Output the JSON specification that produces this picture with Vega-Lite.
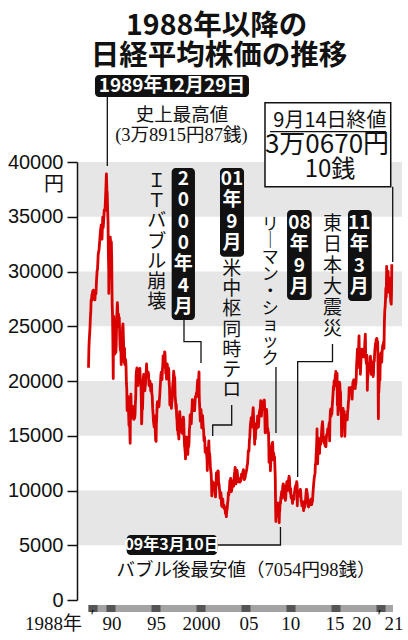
{
"$schema": "https://vega.github.io/schema/vega-lite/v6.json",
"width": 325, "height": 438,
"autosize": "none",
"padding": {"left": 77, "top": 162, "right": 6, "bottom": 40},
"background": "white",
"config": {"view": {"stroke": null}},
"datasets": {
"bands": [
{"t":1986.722,"t2":2022.833,"v":5000,"v2":10000},
{"t":1986.722,"t2":2022.833,"v":15000,"v2":20000},
{"t":1986.722,"t2":2022.833,"v":25000,"v2":30000},
{"t":1986.722,"t2":2022.833,"v":35000,"v2":40000}],
"xbar": [
{"t":1988,"t2":2021.83,"v":-457,"v2":-1096,"k":"L"},
{"t":1988,"t2":1989,"v":-457,"v2":-1096,"k":"D"},
{"t":1990,"t2":1991,"v":-457,"v2":-1096,"k":"D"},
{"t":1995,"t2":1996,"v":-457,"v2":-1096,"k":"D"},
{"t":2000,"t2":2001,"v":-457,"v2":-1096,"k":"D"},
{"t":2005,"t2":2006,"v":-457,"v2":-1096,"k":"D"},
{"t":2010,"t2":2011,"v":-457,"v2":-1096,"k":"D"},
{"t":2015,"t2":2016,"v":-457,"v2":-1096,"k":"D"},
{"t":2020,"t2":2021,"v":-457,"v2":-1096,"k":"D"}],
"wbox": [{"t":2007.61,"t2":2021.58,"v":37744,"v2":45416}],
"bbox": [
{"t":1988.72,"t2":2005.83,"v":45936,"v2":47945},
{"t":1997.24,"t2":1999.83,"v":25571,"v2":39452},
{"t":2002.61,"t2":2005.28,"v":31352,"v2":39452},
{"t":2010.06,"t2":2012.8,"v":27397,"v2":35616},
{"t":2016.83,"t2":2019.47,"v":27306,"v2":35616},
{"t":1992.24,"t2":2002.31,"v":4110,"v2":5936}],
"lead": [
{"id":"a","o":0,"t":1990.09,"v":45936},{"id":"a","o":1,"t":1990.09,"v":39635},
{"id":"b","o":0,"t":1998.61,"v":25571},{"id":"b","o":1,"t":1998.61,"v":23589},{"id":"b","o":2,"t":2000.5,"v":23589},{"id":"b","o":3,"t":2000.5,"v":21644},
{"id":"c","o":0,"t":2003.91,"v":17808},{"id":"c","o":1,"t":2003.91,"v":15982},{"id":"c","o":2,"t":2001.8,"v":15982},{"id":"c","o":3,"t":2001.8,"v":14977},
{"id":"d","o":0,"t":2008.83,"v":21278},{"id":"d","o":1,"t":2008.83,"v":15251},
{"id":"e","o":0,"t":2015.11,"v":23379},{"id":"e","o":1,"t":2015.11,"v":21763},{"id":"e","o":2,"t":2011.24,"v":21763},{"id":"e","o":3,"t":2011.24,"v":11233},
{"id":"f","o":0,"t":2002.31,"v":5023},{"id":"f","o":1,"t":2009.33,"v":5023},{"id":"f","o":2,"t":2009.33,"v":6667},
{"id":"g","o":0,"t":2021.8,"v":37744},{"id":"g","o":1,"t":2021.8,"v":30867},
{"id":"h","o":0,"t":2008.17,"v":42767},{"id":"h","o":1,"t":2021.06,"v":42767}],
"ttl": [{"t":2002.24,"v":52464,"s":"1988年以降の"},{"t":2002.5,"v":49724,"s":"日経平均株価の推移"}],
"wh18": [{"t":1997.28,"v":46941,"s":"1989年12月29日"}],
"wh15": [{"t":1997.28,"v":5023,"s":"09年3月10日"}],
"whv": [
{"t":1998.54,"v":39268,"s":"2\n0\n0\n0\n年\n4\n月"},
{"t":2003.94,"v":39268,"s":"01\n年\n9\n月"},
{"t":2011.43,"v":35251,"s":"08\n年\n9\n月"},
{"t":2018.09,"v":35251,"s":"11\n年\n3\n月"}],
"blv1": [{"t":1995.58,"v":39085,"s":"Ｉ\nＴ\nバ\nブ\nル\n崩\n壊"},{"t":2003.91,"v":31049,"s":"米\n中\n枢\n同\n時\nテ\nロ"}],
"blv2": [{"t":2015.11,"v":35205,"s":"東\n日\n本\n大\n震\n災"}],
"lehman": [{"t":2008.2,"v":35022,"s":"リ\n｜\nマ\nン\n・\nシ\nョ\nッ\nク"}],
"bl185": [{"t":1998.39,"v":44293,"s":"史上最高値"}],
"serif": [{"t":1998.33,"v":42466,"s":"(3万8915円87銭)"},{"t":2005.5,"v":2740,"s":"バブル後最安値（7054円98銭）"}],
"fin20": [{"t":2014.83,"v":43743,"s":"9月14日終値"}],
"fin27": [{"t":2014.5,"v":41553,"s":"3万0670円"}],
"fin24": [{"t":2014.83,"v":39224,"s":"10銭"}],
"xl": [
{"t":1984.11,"v":-2192,"s":"1988年"},{"t":1988.45,"v":-1552,"s":"′"},
{"t":1990.61,"v":-2192,"s":"90"},{"t":1995.56,"v":-2192,"s":"95"},
{"t":2000.56,"v":-2192,"s":"2000"},{"t":2005.83,"v":-2192,"s":"05"},
{"t":2010.47,"v":-2192,"s":"10"},{"t":2015.39,"v":-2192,"s":"15"},
{"t":2018.36,"v":-2192,"s":"20"},{"t":2020.33,"v":-1552,"s":"′"},
{"t":2021.94,"v":-2192,"s":"21"}],
"nk": [
{"t":1988.00,"v":21217},{"t":1988.04,"v":22790},{"t":1988.08,"v":23719},{"t":1988.13,"v":24350},{"t":1988.17,"v":24919},{"t":1988.21,"v":25800},{"t":1988.25,"v":26260},{"t":1988.29,"v":27400},{"t":1988.33,"v":27296},{"t":1988.38,"v":27900},{"t":1988.42,"v":27417},{"t":1988.46,"v":28200},{"t":1988.50,"v":27769},{"t":1988.54,"v":28300},{"t":1988.58,"v":28101},{"t":1988.63,"v":27500},{"t":1988.67,"v":27911},{"t":1988.71,"v":27400},{"t":1988.75,"v":27924},{"t":1988.79,"v":28200},{"t":1988.83,"v":27982},{"t":1988.88,"v":29000},{"t":1988.92,"v":29579},{"t":1988.96,"v":30100},
{"t":1989.00,"v":30159},{"t":1989.08,"v":31581},{"t":1989.17,"v":31985},{"t":1989.25,"v":32838},{"t":1989.33,"v":33713},{"t":1989.42,"v":34266},{"t":1989.46,"v":33800},{"t":1989.50,"v":32948},{"t":1989.58,"v":34954},{"t":1989.63,"v":34000},{"t":1989.67,"v":34431},{"t":1989.75,"v":35636},{"t":1989.83,"v":35549},{"t":1989.88,"v":36500},{"t":1989.92,"v":37268},{"t":1989.99,"v":38915},
{"t":1990.04,"v":37500},{"t":1990.08,"v":37188},{"t":1990.13,"v":35500},{"t":1990.17,"v":34591},{"t":1990.21,"v":31500},{"t":1990.25,"v":29980},{"t":1990.26,"v":28002},{"t":1990.30,"v":30500},{"t":1990.33,"v":29584},{"t":1990.38,"v":32000},{"t":1990.42,"v":33130},{"t":1990.46,"v":32500},{"t":1990.50,"v":31940},{"t":1990.54,"v":32700},{"t":1990.58,"v":31035},{"t":1990.63,"v":27000},{"t":1990.67,"v":25978},{"t":1990.71,"v":23500},{"t":1990.74,"v":20983},{"t":1990.75,"v":20221},{"t":1990.77,"v":24000},{"t":1990.81,"v":25900},{"t":1990.83,"v":25194},{"t":1990.88,"v":23000},{"t":1990.92,"v":22454},{"t":1990.96,"v":24000},
{"t":1991.00,"v":23848},{"t":1991.04,"v":22600},{"t":1991.08,"v":23293},{"t":1991.13,"v":25500},{"t":1991.17,"v":26409},{"t":1991.21,"v":27146},{"t":1991.25,"v":26292},{"t":1991.29,"v":25000},{"t":1991.33,"v":26111},{"t":1991.38,"v":25700},{"t":1991.42,"v":25789},{"t":1991.46,"v":24400},{"t":1991.50,"v":23290},{"t":1991.54,"v":22800},{"t":1991.58,"v":23900},{"t":1991.63,"v":21500},{"t":1991.67,"v":22335},{"t":1991.71,"v":23500},{"t":1991.75,"v":23916},{"t":1991.79,"v":25000},{"t":1991.83,"v":25222},{"t":1991.88,"v":24000},{"t":1991.92,"v":22687},{"t":1991.96,"v":21700},
{"t":1992.00,"v":22983},{"t":1992.04,"v":21500},{"t":1992.08,"v":22023},{"t":1992.13,"v":21900},{"t":1992.17,"v":21338},{"t":1992.21,"v":19800},{"t":1992.25,"v":19345},{"t":1992.29,"v":17300},{"t":1992.33,"v":17390},{"t":1992.38,"v":18600},{"t":1992.42,"v":18347},{"t":1992.46,"v":16900},{"t":1992.50,"v":15951},{"t":1992.54,"v":16500},{"t":1992.58,"v":15910},{"t":1992.63,"v":14309},{"t":1992.67,"v":18061},{"t":1992.71,"v":18800},{"t":1992.75,"v":17399},{"t":1992.79,"v":16600},{"t":1992.83,"v":16767},{"t":1992.88,"v":17300},{"t":1992.92,"v":17683},{"t":1992.96,"v":16700},
{"t":1993.00,"v":16924},{"t":1993.04,"v":16500},{"t":1993.08,"v":17023},{"t":1993.13,"v":16600},{"t":1993.17,"v":16952},{"t":1993.21,"v":18000},{"t":1993.25,"v":18591},{"t":1993.29,"v":20500},{"t":1993.33,"v":20919},{"t":1993.38,"v":21200},{"t":1993.42,"v":20552},{"t":1993.46,"v":19900},{"t":1993.50,"v":19590},{"t":1993.54,"v":20000},{"t":1993.58,"v":20380},{"t":1993.63,"v":21100},{"t":1993.67,"v":21027},{"t":1993.71,"v":21148},{"t":1993.75,"v":20106},{"t":1993.79,"v":20000},{"t":1993.83,"v":19703},{"t":1993.88,"v":17600},{"t":1993.90,"v":16078},{"t":1993.92,"v":16408},{"t":1993.96,"v":17800},
{"t":1994.00,"v":17417},{"t":1994.04,"v":18500},{"t":1994.08,"v":20229},{"t":1994.13,"v":20600},{"t":1994.17,"v":19997},{"t":1994.21,"v":19500},{"t":1994.25,"v":19112},{"t":1994.29,"v":19400},{"t":1994.33,"v":19725},{"t":1994.38,"v":20600},{"t":1994.42,"v":20973},{"t":1994.45,"v":21552},{"t":1994.50,"v":20644},{"t":1994.54,"v":20600},{"t":1994.58,"v":20449},{"t":1994.63,"v":20800},{"t":1994.67,"v":20629},{"t":1994.71,"v":19700},{"t":1994.75,"v":19564},{"t":1994.79,"v":19900},{"t":1994.83,"v":19990},{"t":1994.88,"v":19500},{"t":1994.92,"v":19076},{"t":1994.96,"v":19300},
{"t":1995.00,"v":19723},{"t":1995.04,"v":18800},{"t":1995.08,"v":18650},{"t":1995.13,"v":17500},{"t":1995.17,"v":17053},{"t":1995.21,"v":16400},{"t":1995.25,"v":16140},{"t":1995.29,"v":15800},{"t":1995.33,"v":16807},{"t":1995.38,"v":16400},{"t":1995.42,"v":15437},{"t":1995.46,"v":14600},{"t":1995.50,"v":14517},{"t":1995.51,"v":14485},{"t":1995.54,"v":16000},{"t":1995.58,"v":16678},{"t":1995.63,"v":17900},{"t":1995.67,"v":18117},{"t":1995.71,"v":17600},{"t":1995.75,"v":17913},{"t":1995.79,"v":17800},{"t":1995.83,"v":17655},{"t":1995.88,"v":18300},{"t":1995.92,"v":18744},{"t":1995.96,"v":19400},
{"t":1996.00,"v":19868},{"t":1996.04,"v":20500},{"t":1996.08,"v":20813},{"t":1996.13,"v":20200},{"t":1996.17,"v":20125},{"t":1996.21,"v":21000},{"t":1996.25,"v":21407},{"t":1996.29,"v":22300},{"t":1996.33,"v":22041},{"t":1996.38,"v":21700},{"t":1996.42,"v":21956},{"t":1996.46,"v":22666},{"t":1996.50,"v":22531},{"t":1996.54,"v":21500},{"t":1996.58,"v":20693},{"t":1996.63,"v":20900},{"t":1996.67,"v":20167},{"t":1996.71,"v":21400},{"t":1996.75,"v":21556},{"t":1996.79,"v":21000},{"t":1996.83,"v":20467},{"t":1996.88,"v":21200},{"t":1996.92,"v":21020},{"t":1996.96,"v":19800},
{"t":1997.00,"v":19361},{"t":1997.04,"v":17800},{"t":1997.08,"v":18330},{"t":1997.13,"v":17900},{"t":1997.17,"v":18557},{"t":1997.21,"v":17500},{"t":1997.25,"v":18003},{"t":1997.29,"v":18200},{"t":1997.33,"v":19151},{"t":1997.38,"v":19800},{"t":1997.42,"v":20068},{"t":1997.46,"v":20900},{"t":1997.50,"v":20605},{"t":1997.54,"v":20200},{"t":1997.58,"v":20331},{"t":1997.63,"v":18500},{"t":1997.67,"v":18229},{"t":1997.71,"v":17500},{"t":1997.75,"v":17888},{"t":1997.79,"v":16800},{"t":1997.83,"v":16459},{"t":1997.88,"v":15500},{"t":1997.92,"v":16636},{"t":1997.96,"v":15100},
{"t":1998.00,"v":15258},{"t":1998.04,"v":14700},{"t":1998.08,"v":16628},{"t":1998.13,"v":17200},{"t":1998.17,"v":16831},{"t":1998.21,"v":16300},{"t":1998.25,"v":16527},{"t":1998.29,"v":15400},{"t":1998.33,"v":15641},{"t":1998.38,"v":15300},{"t":1998.42,"v":15671},{"t":1998.46,"v":15200},{"t":1998.50,"v":15830},{"t":1998.54,"v":16700},{"t":1998.58,"v":16379},{"t":1998.63,"v":14900},{"t":1998.67,"v":14108},{"t":1998.71,"v":13800},{"t":1998.75,"v":13406},{"t":1998.78,"v":12880},{"t":1998.83,"v":13565},{"t":1998.88,"v":14600},{"t":1998.92,"v":14884},{"t":1998.96,"v":13700},
{"t":1999.00,"v":13842},{"t":1999.04,"v":13300},{"t":1999.08,"v":14499},{"t":1999.13,"v":14000},{"t":1999.17,"v":14368},{"t":1999.21,"v":15600},{"t":1999.25,"v":15837},{"t":1999.29,"v":16900},{"t":1999.33,"v":16702},{"t":1999.38,"v":16300},{"t":1999.42,"v":16112},{"t":1999.46,"v":17000},{"t":1999.50,"v":17530},{"t":1999.54,"v":18300},{"t":1999.58,"v":17862},{"t":1999.63,"v":17300},{"t":1999.67,"v":17437},{"t":1999.71,"v":17800},{"t":1999.75,"v":17605},{"t":1999.79,"v":17300},{"t":1999.83,"v":17943},{"t":1999.88,"v":18600},{"t":1999.92,"v":18558},{"t":1999.96,"v":18700},
{"t":2000.00,"v":18934},{"t":2000.04,"v":18600},{"t":2000.08,"v":19540},{"t":2000.13,"v":20100},{"t":2000.17,"v":19960},{"t":2000.21,"v":19200},{"t":2000.25,"v":20337},{"t":2000.28,"v":20833},{"t":2000.30,"v":18800},{"t":2000.33,"v":17974},{"t":2000.38,"v":17200},{"t":2000.42,"v":16332},{"t":2000.46,"v":17000},{"t":2000.50,"v":17411},{"t":2000.54,"v":16900},{"t":2000.58,"v":15727},{"t":2000.63,"v":16600},{"t":2000.67,"v":16861},{"t":2000.71,"v":16300},{"t":2000.75,"v":15747},{"t":2000.79,"v":15500},{"t":2000.83,"v":14539},{"t":2000.88,"v":14900},{"t":2000.92,"v":14649},{"t":2000.96,"v":13500},
{"t":2001.00,"v":13786},{"t":2001.04,"v":13900},{"t":2001.08,"v":13843},{"t":2001.13,"v":13200},{"t":2001.17,"v":12884},{"t":2001.20,"v":11820},{"t":2001.23,"v":13300},{"t":2001.25,"v":12999},{"t":2001.29,"v":13500},{"t":2001.33,"v":13934},{"t":2001.37,"v":14529},{"t":2001.42,"v":13262},{"t":2001.46,"v":13400},{"t":2001.50,"v":12969},{"t":2001.54,"v":12100},{"t":2001.58,"v":11860},{"t":2001.63,"v":11500},{"t":2001.67,"v":10714},{"t":2001.70,"v":9504},{"t":2001.75,"v":9775},{"t":2001.79,"v":10800},{"t":2001.83,"v":10366},{"t":2001.88,"v":10200},{"t":2001.92,"v":10697},{"t":2001.96,"v":10100},
{"t":2002.00,"v":10543},{"t":2002.04,"v":10200},{"t":2002.08,"v":9997},{"t":2002.11,"v":9420},{"t":2002.17,"v":10588},{"t":2002.21,"v":11600},{"t":2002.25,"v":11025},{"t":2002.29,"v":11600},{"t":2002.33,"v":11493},{"t":2002.38,"v":11800},{"t":2002.42,"v":11764},{"t":2002.46,"v":10500},{"t":2002.50,"v":10622},{"t":2002.54,"v":10200},{"t":2002.58,"v":9877},{"t":2002.63,"v":9300},{"t":2002.67,"v":9619},{"t":2002.71,"v":9800},{"t":2002.75,"v":9383},{"t":2002.79,"v":8600},{"t":2002.83,"v":8640},{"t":2002.88,"v":8500},{"t":2002.92,"v":9216},{"t":2002.96,"v":8500},
{"t":2003.00,"v":8579},{"t":2003.04,"v":8700},{"t":2003.08,"v":8340},{"t":2003.13,"v":8500},{"t":2003.17,"v":8363},{"t":2003.21,"v":7900},{"t":2003.25,"v":7973},{"t":2003.32,"v":7607},{"t":2003.33,"v":7831},{"t":2003.38,"v":8200},{"t":2003.42,"v":8425},{"t":2003.46,"v":8900},{"t":2003.50,"v":9083},{"t":2003.54,"v":9800},{"t":2003.58,"v":9563},{"t":2003.63,"v":9900},{"t":2003.67,"v":10344},{"t":2003.71,"v":10900},{"t":2003.75,"v":10219},{"t":2003.79,"v":11100},{"t":2003.83,"v":10560},{"t":2003.88,"v":9900},{"t":2003.92,"v":10100},{"t":2003.96,"v":10300},
{"t":2004.00,"v":10677},{"t":2004.04,"v":10900},{"t":2004.08,"v":10783},{"t":2004.13,"v":10400},{"t":2004.17,"v":11042},{"t":2004.21,"v":11500},{"t":2004.25,"v":11715},{"t":2004.29,"v":12100},{"t":2004.33,"v":11762},{"t":2004.38,"v":10600},{"t":2004.42,"v":11236},{"t":2004.46,"v":11800},{"t":2004.50,"v":11858},{"t":2004.54,"v":11500},{"t":2004.58,"v":11326},{"t":2004.63,"v":10800},{"t":2004.67,"v":11082},{"t":2004.71,"v":11100},{"t":2004.75,"v":10824},{"t":2004.79,"v":11000},{"t":2004.83,"v":10771},{"t":2004.88,"v":10900},{"t":2004.92,"v":10899},{"t":2004.96,"v":11100},
{"t":2005.00,"v":11489},{"t":2005.04,"v":11400},{"t":2005.08,"v":11388},{"t":2005.13,"v":11600},{"t":2005.17,"v":11741},{"t":2005.21,"v":11900},{"t":2005.25,"v":11668},{"t":2005.29,"v":11000},{"t":2005.33,"v":11009},{"t":2005.38,"v":11100},{"t":2005.42,"v":11277},{"t":2005.46,"v":11500},{"t":2005.50,"v":11584},{"t":2005.54,"v":11800},{"t":2005.58,"v":11900},{"t":2005.63,"v":12300},{"t":2005.67,"v":12413},{"t":2005.71,"v":12900},{"t":2005.75,"v":13574},{"t":2005.79,"v":13700},{"t":2005.83,"v":13606},{"t":2005.88,"v":14600},{"t":2005.92,"v":14872},{"t":2005.96,"v":15600},
{"t":2006.00,"v":16111},{"t":2006.04,"v":16300},{"t":2006.08,"v":16650},{"t":2006.13,"v":15800},{"t":2006.17,"v":16205},{"t":2006.21,"v":16500},{"t":2006.25,"v":17060},{"t":2006.30,"v":17563},{"t":2006.33,"v":16906},{"t":2006.38,"v":15800},{"t":2006.42,"v":15467},{"t":2006.46,"v":14219},{"t":2006.50,"v":15505},{"t":2006.54,"v":14700},{"t":2006.58,"v":15457},{"t":2006.63,"v":16100},{"t":2006.67,"v":16140},{"t":2006.71,"v":15700},{"t":2006.75,"v":16128},{"t":2006.79,"v":16800},{"t":2006.83,"v":16399},{"t":2006.88,"v":15800},{"t":2006.92,"v":16274},{"t":2006.96,"v":16900},
{"t":2007.00,"v":17225},{"t":2007.04,"v":17400},{"t":2007.08,"v":17383},{"t":2007.13,"v":18200},{"t":2007.17,"v":17604},{"t":2007.21,"v":16800},{"t":2007.25,"v":17288},{"t":2007.29,"v":17600},{"t":2007.33,"v":17400},{"t":2007.38,"v":17700},{"t":2007.42,"v":17876},{"t":2007.46,"v":18200},{"t":2007.50,"v":18138},{"t":2007.54,"v":18262},{"t":2007.58,"v":17249},{"t":2007.63,"v":15273},{"t":2007.67,"v":16569},{"t":2007.71,"v":16000},{"t":2007.75,"v":16786},{"t":2007.79,"v":17400},{"t":2007.83,"v":16737},{"t":2007.88,"v":15300},{"t":2007.92,"v":15681},{"t":2007.96,"v":15200},
{"t":2008.00,"v":15308},{"t":2008.04,"v":13800},{"t":2008.06,"v":12573},{"t":2008.08,"v":13592},{"t":2008.13,"v":13900},{"t":2008.17,"v":13603},{"t":2008.21,"v":11800},{"t":2008.25,"v":12526},{"t":2008.29,"v":13300},{"t":2008.33,"v":13850},{"t":2008.38,"v":14200},{"t":2008.42,"v":14339},{"t":2008.46,"v":14400},{"t":2008.50,"v":13481},{"t":2008.54,"v":12800},{"t":2008.58,"v":13377},{"t":2008.63,"v":13000},{"t":2008.67,"v":13073},{"t":2008.71,"v":12200},{"t":2008.75,"v":11260},{"t":2008.79,"v":8500},{"t":2008.82,"v":7162},{"t":2008.83,"v":8577},{"t":2008.88,"v":8100},{"t":2008.92,"v":8512},{"t":2008.96,"v":8300},
{"t":2009.00,"v":8860},{"t":2009.04,"v":8200},{"t":2009.08,"v":7994},{"t":2009.13,"v":7600},{"t":2009.17,"v":7568},{"t":2009.19,"v":7055},{"t":2009.23,"v":8300},{"t":2009.25,"v":8110},{"t":2009.29,"v":8900},{"t":2009.33,"v":8828},{"t":2009.38,"v":9400},{"t":2009.42,"v":9523},{"t":2009.46,"v":9900},{"t":2009.50,"v":9958},{"t":2009.54,"v":9300},{"t":2009.58,"v":10357},{"t":2009.63,"v":10600},{"t":2009.67,"v":10493},{"t":2009.71,"v":10200},{"t":2009.75,"v":10133},{"t":2009.79,"v":10300},{"t":2009.83,"v":10035},{"t":2009.88,"v":9100},{"t":2009.92,"v":9346},{"t":2009.96,"v":10200},
{"t":2010.00,"v":10546},{"t":2010.04,"v":10800},{"t":2010.08,"v":10198},{"t":2010.13,"v":10000},{"t":2010.17,"v":10126},{"t":2010.21,"v":10800},{"t":2010.25,"v":11090},{"t":2010.29,"v":11300},{"t":2010.33,"v":11057},{"t":2010.38,"v":10200},{"t":2010.42,"v":9769},{"t":2010.46,"v":10200},{"t":2010.50,"v":9383},{"t":2010.54,"v":9300},{"t":2010.58,"v":9537},{"t":2010.63,"v":9200},{"t":2010.67,"v":8824},{"t":2010.71,"v":9200},{"t":2010.75,"v":9369},{"t":2010.79,"v":9500},{"t":2010.83,"v":9202},{"t":2010.88,"v":9800},{"t":2010.92,"v":9937},{"t":2010.96,"v":10300},
{"t":2011.00,"v":10229},{"t":2011.04,"v":10500},{"t":2011.08,"v":10237},{"t":2011.13,"v":10800},{"t":2011.17,"v":10624},{"t":2011.19,"v":10300},{"t":2011.20,"v":8605},{"t":2011.23,"v":9600},{"t":2011.25,"v":9755},{"t":2011.29,"v":9600},{"t":2011.33,"v":9850},{"t":2011.38,"v":9900},{"t":2011.42,"v":9693},{"t":2011.46,"v":9500},{"t":2011.50,"v":9816},{"t":2011.54,"v":10100},{"t":2011.58,"v":9833},{"t":2011.63,"v":9000},{"t":2011.67,"v":8955},{"t":2011.71,"v":8600},{"t":2011.75,"v":8700},{"t":2011.79,"v":8700},{"t":2011.83,"v":8988},{"t":2011.88,"v":8400},{"t":2011.90,"v":8160},{"t":2011.92,"v":8434},{"t":2011.96,"v":8400},
{"t":2012.00,"v":8455},{"t":2012.04,"v":8600},{"t":2012.08,"v":8802},{"t":2012.13,"v":9300},{"t":2012.17,"v":9723},{"t":2012.21,"v":10100},{"t":2012.25,"v":10083},{"t":2012.29,"v":9700},{"t":2012.33,"v":9521},{"t":2012.38,"v":8900},{"t":2012.42,"v":8543},{"t":2012.46,"v":8500},{"t":2012.50,"v":9007},{"t":2012.54,"v":8800},{"t":2012.58,"v":8695},{"t":2012.63,"v":9100},{"t":2012.67,"v":8840},{"t":2012.71,"v":9200},{"t":2012.75,"v":8870},{"t":2012.79,"v":8700},{"t":2012.83,"v":8928},{"t":2012.88,"v":9000},{"t":2012.92,"v":9446},{"t":2012.96,"v":10000},
{"t":2013.00,"v":10395},{"t":2013.04,"v":10800},{"t":2013.08,"v":11139},{"t":2013.13,"v":11400},{"t":2013.17,"v":11559},{"t":2013.21,"v":12400},{"t":2013.25,"v":12398},{"t":2013.29,"v":13200},{"t":2013.33,"v":13861},{"t":2013.38,"v":15000},{"t":2013.39,"v":15627},{"t":2013.42,"v":13775},{"t":2013.46,"v":12445},{"t":2013.50,"v":13677},{"t":2013.54,"v":14800},{"t":2013.58,"v":13668},{"t":2013.63,"v":13600},{"t":2013.67,"v":13389},{"t":2013.71,"v":14400},{"t":2013.75,"v":14456},{"t":2013.79,"v":14200},{"t":2013.83,"v":14328},{"t":2013.88,"v":15100},{"t":2013.92,"v":15662},{"t":2013.96,"v":16000},
{"t":2014.00,"v":16291},{"t":2014.04,"v":15700},{"t":2014.08,"v":14915},{"t":2014.13,"v":14500},{"t":2014.17,"v":14841},{"t":2014.21,"v":14300},{"t":2014.25,"v":14828},{"t":2014.29,"v":14100},{"t":2014.33,"v":14304},{"t":2014.38,"v":14000},{"t":2014.42,"v":14632},{"t":2014.46,"v":15100},{"t":2014.50,"v":15162},{"t":2014.54,"v":15200},{"t":2014.58,"v":15621},{"t":2014.63,"v":15100},{"t":2014.67,"v":15425},{"t":2014.71,"v":15900},{"t":2014.75,"v":16174},{"t":2014.79,"v":14532},{"t":2014.83,"v":16414},{"t":2014.88,"v":17300},{"t":2014.92,"v":17460},{"t":2014.96,"v":16800},
{"t":2015.00,"v":17451},{"t":2015.04,"v":17000},{"t":2015.08,"v":17674},{"t":2015.13,"v":18300},{"t":2015.17,"v":18798},{"t":2015.21,"v":19500},{"t":2015.25,"v":19207},{"t":2015.29,"v":20000},{"t":2015.33,"v":19520},{"t":2015.38,"v":19800},{"t":2015.42,"v":20563},{"t":2015.46,"v":20400},{"t":2015.48,"v":20868},{"t":2015.50,"v":20236},{"t":2015.54,"v":19800},{"t":2015.58,"v":20585},{"t":2015.62,"v":20700},{"t":2015.65,"v":17800},{"t":2015.67,"v":18890},{"t":2015.71,"v":17700},{"t":2015.72,"v":16930},{"t":2015.75,"v":17388},{"t":2015.79,"v":18300},{"t":2015.83,"v":19083},{"t":2015.88,"v":19900},{"t":2015.92,"v":19747},{"t":2015.96,"v":18900},
{"t":2016.00,"v":19034},{"t":2016.04,"v":17300},{"t":2016.08,"v":17518},{"t":2016.12,"v":14953},{"t":2016.17,"v":16027},{"t":2016.21,"v":17000},{"t":2016.25,"v":16759},{"t":2016.29,"v":17500},{"t":2016.33,"v":16666},{"t":2016.38,"v":16500},{"t":2016.42,"v":17235},{"t":2016.46,"v":16000},{"t":2016.48,"v":14952},{"t":2016.50,"v":15576},{"t":2016.54,"v":16700},{"t":2016.58,"v":16569},{"t":2016.63,"v":16500},{"t":2016.67,"v":16887},{"t":2016.71,"v":16500},{"t":2016.75,"v":16450},{"t":2016.79,"v":17200},{"t":2016.83,"v":17425},{"t":2016.88,"v":18100},{"t":2016.92,"v":18308},{"t":2016.96,"v":19400},
{"t":2017.00,"v":19114},{"t":2017.04,"v":19000},{"t":2017.08,"v":19041},{"t":2017.13,"v":19400},{"t":2017.17,"v":19119},{"t":2017.21,"v":19400},{"t":2017.25,"v":18909},{"t":2017.29,"v":18336},{"t":2017.33,"v":19197},{"t":2017.38,"v":19900},{"t":2017.42,"v":19651},{"t":2017.46,"v":20100},{"t":2017.50,"v":20033},{"t":2017.54,"v":20100},{"t":2017.58,"v":19925},{"t":2017.63,"v":19300},{"t":2017.67,"v":19646},{"t":2017.71,"v":19800},{"t":2017.75,"v":20356},{"t":2017.79,"v":21500},{"t":2017.83,"v":22012},{"t":2017.88,"v":22900},{"t":2017.92,"v":22725},{"t":2017.96,"v":22900},
{"t":2018.00,"v":22765},{"t":2018.06,"v":24124},{"t":2018.08,"v":23098},{"t":2018.11,"v":21200},{"t":2018.17,"v":22068},{"t":2018.21,"v":20617},{"t":2018.25,"v":21454},{"t":2018.29,"v":22100},{"t":2018.33,"v":22468},{"t":2018.38,"v":22900},{"t":2018.42,"v":22202},{"t":2018.46,"v":22800},{"t":2018.50,"v":22305},{"t":2018.54,"v":22700},{"t":2018.58,"v":22554},{"t":2018.63,"v":22200},{"t":2018.67,"v":22865},{"t":2018.71,"v":23600},{"t":2018.75,"v":24120},{"t":2018.76,"v":24270},{"t":2018.79,"v":22500},{"t":2018.83,"v":21920},{"t":2018.88,"v":21600},{"t":2018.92,"v":22351},{"t":2018.96,"v":21100},{"t":2018.98,"v":19155},
{"t":2019.00,"v":20015},{"t":2019.04,"v":20400},{"t":2019.08,"v":20773},{"t":2019.13,"v":21400},{"t":2019.17,"v":21385},{"t":2019.21,"v":21600},{"t":2019.25,"v":21206},{"t":2019.29,"v":22200},{"t":2019.33,"v":22259},{"t":2019.38,"v":21300},{"t":2019.42,"v":20601},{"t":2019.46,"v":21100},{"t":2019.50,"v":21276},{"t":2019.54,"v":21700},{"t":2019.58,"v":21522},{"t":2019.63,"v":20400},{"t":2019.67,"v":20704},{"t":2019.71,"v":21900},{"t":2019.75,"v":21756},{"t":2019.79,"v":22500},{"t":2019.83,"v":22927},{"t":2019.88,"v":23400},{"t":2019.92,"v":23294},{"t":2019.96,"v":23800},
{"t":2020.00,"v":23657},{"t":2020.04,"v":23900},{"t":2020.08,"v":23205},{"t":2020.13,"v":23600},{"t":2020.17,"v":21143},{"t":2020.19,"v":18500},{"t":2020.21,"v":16553},{"t":2020.23,"v":19400},{"t":2020.25,"v":18917},{"t":2020.29,"v":19500},{"t":2020.33,"v":20194},{"t":2020.38,"v":20100},{"t":2020.42,"v":21878},{"t":2020.46,"v":22500},{"t":2020.50,"v":22288},{"t":2020.54,"v":22600},{"t":2020.58,"v":21710},{"t":2020.63,"v":22700},{"t":2020.67,"v":23140},{"t":2020.71,"v":23300},{"t":2020.75,"v":23185},{"t":2020.79,"v":23600},{"t":2020.83,"v":22977},{"t":2020.88,"v":25500},{"t":2020.92,"v":26434},{"t":2020.96,"v":26800},
{"t":2021.00,"v":27444},{"t":2021.04,"v":28500},{"t":2021.08,"v":27663},{"t":2021.13,"v":30467},{"t":2021.17,"v":28966},{"t":2021.21,"v":28900},{"t":2021.25,"v":29179},{"t":2021.29,"v":30000},{"t":2021.33,"v":28813},{"t":2021.38,"v":28100},{"t":2021.42,"v":28860},{"t":2021.46,"v":29400},{"t":2021.50,"v":28792},{"t":2021.54,"v":27900},{"t":2021.58,"v":27284},{"t":2021.64,"v":27013},{"t":2021.67,"v":28090},{"t":2021.70,"v":30670}]
},
"encoding": {
"x": {"field": "t", "type": "quantitative", "scale": {"domain": [1986.722, 2022.833], "nice": false, "zero": false}, "axis": null},
"y": {"field": "v", "type": "quantitative", "scale": {"domain": [0, 40000], "nice": false, "zero": false},
  "axis": {"values": [0,5000,10000,15000,20000,25000,30000,35000,40000], "format": "d", "grid": false, "zindex": 1,
    "domainColor": "#111", "domainWidth": 1.5, "tickColor": "#111", "tickWidth": 1.5, "tickSize": 10,
    "labelFont": "Liberation Sans", "labelFontSize": 20, "labelColor": "#111", "labelPadding": 4, "labelFlush": false, "labelOverlap": false,
    "title": "円", "titleAngle": 0, "titleX": -23.5, "titleY": 22, "titleFont": "Noto Sans CJK JP", "titleFontSize": 20, "titleFontWeight": "normal", "titleColor": "#111", "titleAlign": "center", "titleBaseline": "middle"}}
},
"layer": [
{"data": {"name": "bands"}, "mark": {"type": "rect", "color": "#e6e6e6"}, "encoding": {"x2": {"field": "t2"}, "y2": {"field": "v2"}}},
{"data": {"name": "xbar"}, "mark": {"type": "rect"}, "encoding": {"x2": {"field": "t2"}, "y2": {"field": "v2"}, "color": {"field": "k", "type": "nominal", "scale": {"domain": ["L", "D"], "range": ["#a3a3a3", "#555555"]}, "legend": null}}},
{"data": {"name": "nk"}, "mark": {"type": "line", "color": "#d90000", "strokeWidth": 2.8, "strokeJoin": "round"}},
{"data": {"name": "wbox"}, "mark": {"type": "rect", "fill": "white", "stroke": "#111", "strokeWidth": 1.5}, "encoding": {"x2": {"field": "t2"}, "y2": {"field": "v2"}}},
{"data": {"name": "lead"}, "mark": {"type": "line", "color": "#111", "strokeWidth": 1.3}, "encoding": {"detail": {"field": "id"}, "order": {"field": "o", "type": "quantitative"}}},
{"data": {"name": "bbox"}, "mark": {"type": "rect", "fill": "#111", "cornerRadius": 4}, "encoding": {"x2": {"field": "t2"}, "y2": {"field": "v2"}}},
{"data": {"name": "ttl"}, "mark": {"type": "text", "font": "Noto Sans CJK JP", "fontWeight": "bold", "fontSize": 28.5, "color": "#111", "align": "center", "baseline": "middle"}, "encoding": {"text": {"field": "s"}}},
{"data": {"name": "wh18"}, "mark": {"type": "text", "font": "Liberation Sans Narrow, Noto Sans CJK JP", "fontWeight": "bold", "fontSize": 19, "color": "white", "align": "center", "baseline": "middle"}, "encoding": {"text": {"field": "s"}}},
{"data": {"name": "wh15"}, "mark": {"type": "text", "font": "Liberation Sans Narrow, Noto Sans CJK JP", "fontWeight": "bold", "fontSize": 16, "color": "white", "align": "center", "baseline": "middle"}, "encoding": {"text": {"field": "s"}}},
{"data": {"name": "whv"}, "mark": {"type": "text", "font": "Liberation Sans Narrow, Noto Sans CJK JP", "fontWeight": "bold", "fontSize": 19, "lineHeight": 21.3, "lineBreak": "\n", "color": "white", "align": "center", "baseline": "top"}, "encoding": {"text": {"field": "s"}}},
{"data": {"name": "blv1"}, "mark": {"type": "text", "font": "Noto Sans CJK JP", "fontSize": 19, "lineHeight": 20.2, "lineBreak": "\n", "color": "#111", "align": "center", "baseline": "top"}, "encoding": {"text": {"field": "s"}}},
{"data": {"name": "blv2"}, "mark": {"type": "text", "font": "Noto Sans CJK JP", "fontSize": 19, "lineHeight": 21, "lineBreak": "\n", "color": "#111", "align": "center", "baseline": "top"}, "encoding": {"text": {"field": "s"}}},
{"data": {"name": "lehman"}, "mark": {"type": "text", "font": "Noto Sans CJK JP", "fontSize": 17, "lineHeight": 16.8, "lineBreak": "\n", "color": "#111", "align": "center", "baseline": "top"}, "encoding": {"text": {"field": "s"}}},
{"data": {"name": "bl185"}, "mark": {"type": "text", "font": "Noto Sans CJK JP", "fontSize": 18.5, "color": "#111", "align": "center", "baseline": "middle"}, "encoding": {"text": {"field": "s"}}},
{"data": {"name": "serif"}, "mark": {"type": "text", "font": "Liberation Serif, Noto Sans CJK JP", "fontSize": 18.5, "color": "#111", "align": "center", "baseline": "middle"}, "encoding": {"text": {"field": "s"}}},
{"data": {"name": "fin20"}, "mark": {"type": "text", "font": "Noto Sans CJK JP", "fontSize": 20, "color": "#111", "align": "center", "baseline": "middle"}, "encoding": {"text": {"field": "s"}}},
{"data": {"name": "fin27"}, "mark": {"type": "text", "font": "Noto Sans CJK JP", "fontSize": 26, "fontWeight": "normal", "color": "#111", "align": "center", "baseline": "middle"}, "encoding": {"text": {"field": "s"}}},
{"data": {"name": "fin24"}, "mark": {"type": "text", "font": "Noto Sans CJK JP", "fontSize": 24, "fontWeight": "normal", "color": "#111", "align": "center", "baseline": "middle"}, "encoding": {"text": {"field": "s"}}},
{"data": {"name": "xl"}, "mark": {"type": "text", "font": "Liberation Serif, Noto Sans CJK JP", "fontSize": 19, "color": "#111", "align": "center", "baseline": "middle"}, "encoding": {"text": {"field": "s"}}}
]
}
